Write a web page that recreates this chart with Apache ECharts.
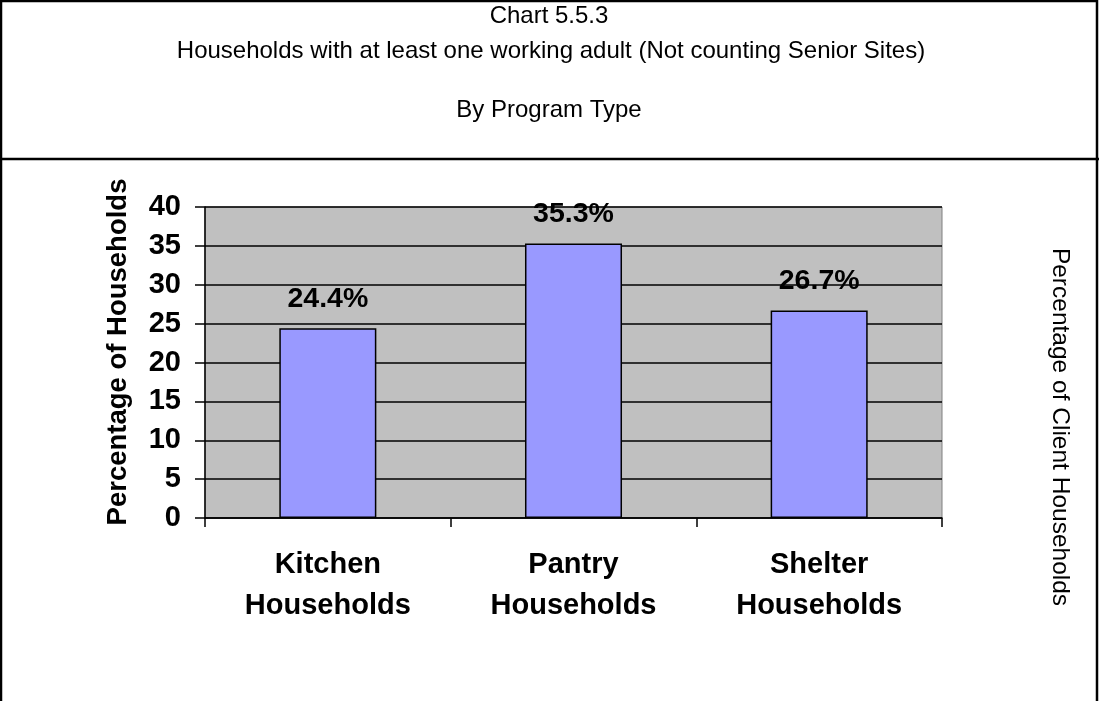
<!DOCTYPE html>
<html>
<head>
<meta charset="utf-8">
<script src="https://cdn.jsdelivr.net/npm/echarts@6/dist/echarts.min.js"></script>
<style>
  html, body { margin: 0; padding: 0; background: #ffffff; }
  #chart { width: 1099px; height: 701px; }
</style>
</head>
<body>
<div id="chart"></div>
<script>
// Program types and share of households with at least one working adult
const categories = ['Kitchen\nHouseholds', 'Pantry\nHouseholds', 'Shelter\nHouseholds'];
const workingShare = [24.4, 35.3, 26.7];
const yTicks = { min: 0, max: 40, interval: 5 };

const titleLines = ['Chart 5.5.3', 'Households with at least one working adult (Not counting Senior Sites)', 'By Program Type'];
const yAxisTitle = 'Percentage of Households';
const sideTitle = 'Percentage of Client Households';

const FONT = '"Liberation Sans", Arial, sans-serif';

const chart = echarts.init(document.getElementById('chart'), null, { renderer: 'canvas' });

chart.setOption({
  backgroundColor: '#ffffff',
  animation: false,
  grid: { left: 205, top: 207, right: 157, bottom: 183, show: true, backgroundColor: '#c0c0c0', borderColor: '#808080', borderWidth: 1 },
  xAxis: {
    type: 'category',
    data: categories,
    boundaryGap: true,
    axisLine: { lineStyle: { color: '#000', width: 1.5 } },
    axisTick: { show: true, length: 9, interval: 0, lineStyle: { color: '#000', width: 1.5 } },
    axisLabel: { margin: 26, color: '#000', fontFamily: FONT, fontWeight: 'bold', fontSize: 29, lineHeight: 41, interval: 0 }
  },
  yAxis: {
    type: 'value',
    min: yTicks.min,
    max: yTicks.max,
    interval: yTicks.interval,
    axisLine: { show: true, lineStyle: { color: '#000', width: 1.5 } },
    axisTick: { show: true, length: 10, lineStyle: { color: '#000', width: 1.5 } },
    axisLabel: { margin: 24, color: '#000', fontFamily: FONT, fontWeight: 'bold', fontSize: 29 },
    splitLine: { show: true, lineStyle: { color: '#000', width: 1.5 } }
  },
  series: [{
    type: 'bar',
    data: workingShare,
    barWidth: '39.5%',
    itemStyle: { color: '#9999ff', borderColor: '#000', borderWidth: 1.5 },
    label: {
      show: true,
      position: 'top',
      distance: 15,
      formatter: p => p.value.toFixed(1) + '%',
      color: '#000',
      fontFamily: FONT,
      fontWeight: 'bold',
      fontSize: 28.5
    }
  }],
  graphic: [
    // outer frame and the rule under the heading
    { type: 'rect', shape: { x: 1, y: 1, width: 1096, height: 720 }, style: { fill: 'none', stroke: '#000', lineWidth: 2.5 }, z: 10 },
    { type: 'line', shape: { x1: 0, y1: 159, x2: 1099, y2: 159 }, style: { stroke: '#000', lineWidth: 2.5 }, z: 10 },
    { type: 'text', x: 549, y: 16, style: { text: titleLines[0], font: '24px ' + FONT, fill: '#000', textAlign: 'center', textVerticalAlign: 'middle' } },
    { type: 'text', x: 551, y: 51, style: { text: titleLines[1], font: '24px ' + FONT, fill: '#000', textAlign: 'center', textVerticalAlign: 'middle' } },
    { type: 'text', x: 549, y: 110, style: { text: titleLines[2], font: '24px ' + FONT, fill: '#000', textAlign: 'center', textVerticalAlign: 'middle' } },
    { type: 'text', x: 118, y: 352, rotation: Math.PI / 2, style: { text: yAxisTitle, font: 'bold 27.5px ' + FONT, fill: '#000', textAlign: 'center', textVerticalAlign: 'middle' } },
    { type: 'text', x: 1060, y: 427, rotation: -Math.PI / 2, style: { text: sideTitle, font: '24.5px ' + FONT, fill: '#000', textAlign: 'center', textVerticalAlign: 'middle' } }
  ]
});
</script>
</body>
</html>
